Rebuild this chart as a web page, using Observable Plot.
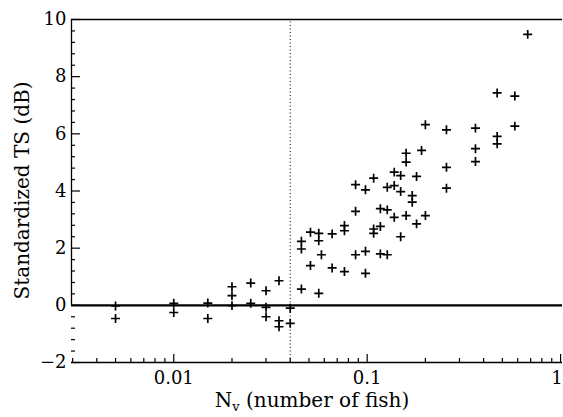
<!DOCTYPE html>
<html><head><meta charset="utf-8">
<script src="https://cdn.jsdelivr.net/npm/d3@7"></script>
<script src="https://cdn.jsdelivr.net/npm/@observablehq/plot@0.6"></script>
<style>html,body{margin:0;padding:0;background:#fff}</style>
</head><body><div id="chart"></div>
<script>
// Data
const nv = [0.005,0.005, 0.01,0.01, 0.015,0.015, 0.02,0.02,0.02, 0.025,0.025, 0.03,0.03,0.03,
  0.035,0.035,0.035, 0.04,0.04, 0.0457,0.0457,0.0457, 0.0509,0.0509, 0.0562,0.0562,0.0562, 0.058,
  0.0659,0.0659, 0.0763,0.0763,0.0763, 0.0871,0.0871,0.0871, 0.098,0.098,0.098, 0.108,0.108,0.108,
  0.117,0.117,0.117, 0.127,0.127,0.127, 0.138,0.138,0.138, 0.149,0.149,0.149, 0.159,0.159,0.159,
  0.171,0.171, 0.180,0.180, 0.191, 0.200,0.200, 0.257,0.257,0.257, 0.363,0.363,0.363,
  0.47,0.47,0.47, 0.58,0.58, 0.676];
const ts = [-0.02,-0.46, 0.07,-0.25, 0.08,-0.46, 0.65,0.34,-0.01, 0.78,0.07, 0.51,-0.07,-0.40,
  0.86,-0.54,-0.75, -0.10,-0.63, 2.24,1.97,0.57, 2.56,1.39, 2.52,2.26,0.42, 1.77,
  2.50,1.31, 2.79,2.61,1.18, 4.22,3.29,1.77, 4.04,1.89,1.12, 4.45,2.67,2.52,
  3.38,2.76,1.80, 4.13,3.34,1.77, 4.66,4.19,3.08, 4.54,3.98,2.40, 5.32,5.01,3.14,
  3.84,3.61, 4.51,2.85, 5.42, 6.32,3.14, 6.14,4.83,4.10, 6.20,5.48,5.03,
  7.43,5.91,5.65, 7.32,6.27, 9.48];
const xDomain = [0.00296, 1.023];
const yDomain = [-2, 10];
const yTicks = [-2, 0, 2, 4, 6, 8, 10];
const yTickLabels = ["\u22122", "0", "2", "4", "6", "8", "10"];
const yMinor = [-1.6,-1.2,-0.8,-0.4, 0.4,0.8,1.2,1.6, 2.4,2.8,3.2,3.6, 4.4,4.8,5.2,5.6,
  6.4,6.8,7.2,7.6, 8.4,8.8,9.2,9.6];
const xTicks = [0.01, 0.1, 1];
const xTickLabels = ["0.01", "0.1", "1"];
const xMinor = [0.003,0.004,0.005,0.006,0.007,0.008,0.009, 0.02,0.03,0.04,0.05,0.06,0.07,0.08,0.09,
  0.2,0.3,0.4,0.5,0.6,0.7,0.8,0.9];
const threshold = [0.04];
const xTitle = ["N", "v", " (number of fish)"];
const yTitle = "Standardized TS (dB)";

const points = nv.map((x, i) => ({x, y: ts[i]}));
const fmtY = d => yTickLabels[yTicks.indexOf(d)];
const fmtX = d => xTickLabels[xTicks.indexOf(d)];

const plot = Plot.plot({
  width: 563, height: 417,
  marginTop: 19, marginBottom: 55, marginLeft: 71, marginRight: 1,
  style: {fontFamily: "DejaVu Serif", fontSize: "18px", background: "white", color: "black"},
  x: {type: "log", domain: xDomain},
  y: {domain: yDomain},
  marks: [
    Plot.ruleY([yDomain[1]], {stroke: "black", strokeWidth: 1.3}),
    Plot.ruleY([yDomain[0]], {stroke: "black", strokeWidth: 1.3}),
    Plot.ruleX([xDomain[0]], {y1: 0, y2: yDomain[1], stroke: "black", strokeWidth: 1.3}),
    Plot.ruleX(threshold, {y1: yDomain[0], y2: yDomain[1], stroke: "black", strokeWidth: 1, strokeDasharray: "1,2.5"}),
    Plot.ruleY([0], {stroke: "black", strokeWidth: 2.2}),
    Plot.axisY(yMinor, {tickSize: 4, dx: 4, tickFormat: () => "", label: null, strokeWidth: 1.2}),
    Plot.axisY(yTicks, {tickSize: 9, dx: 9, tickFormat: () => "", label: null, strokeWidth: 1.2}),
    Plot.axisY(yTicks, {tickSize: 0, tickPadding: 5, tickFormat: fmtY, label: null, fontSize: 18}),
    Plot.axisX(xMinor, {tickSize: 4, dy: -4, tickFormat: () => "", label: null, strokeWidth: 1.2}),
    Plot.axisX(xTicks, {tickSize: 8, dy: -8, tickFormat: () => "", label: null, strokeWidth: 1.2}),
    Plot.axisX(xTicks.slice(0, 2), {tickSize: 0, tickPadding: 9, tickFormat: fmtX, label: null, fontSize: 18}),
    Plot.axisX(xTicks.slice(2), {tickSize: 0, tickPadding: 9, tickFormat: fmtX, label: null, fontSize: 18, textAnchor: "end", dx: 2}),
    Plot.dot(points, {x: "x", y: "y", symbol: "plus", r: 3, stroke: "black", strokeWidth: 1.7})
  ]
});

const svg = d3.select(plot);
svg.append("text")
  .attr("transform", "translate(29,190.5) rotate(-90)")
  .attr("text-anchor", "middle")
  .attr("font-family", "DejaVu Serif").attr("font-size", 20).attr("fill", "black")
  .text(yTitle);
const xt = svg.append("text")
  .attr("x", 312).attr("y", 407)
  .attr("text-anchor", "middle")
  .attr("font-family", "DejaVu Serif").attr("font-size", 20).attr("fill", "black");
xt.append("tspan").text(xTitle[0]);
xt.append("tspan").attr("font-size", 13).attr("dy", 4).text(xTitle[1]);
xt.append("tspan").attr("dy", -4).text(xTitle[2]);

document.getElementById("chart").appendChild(plot);
</script>
</body></html>
